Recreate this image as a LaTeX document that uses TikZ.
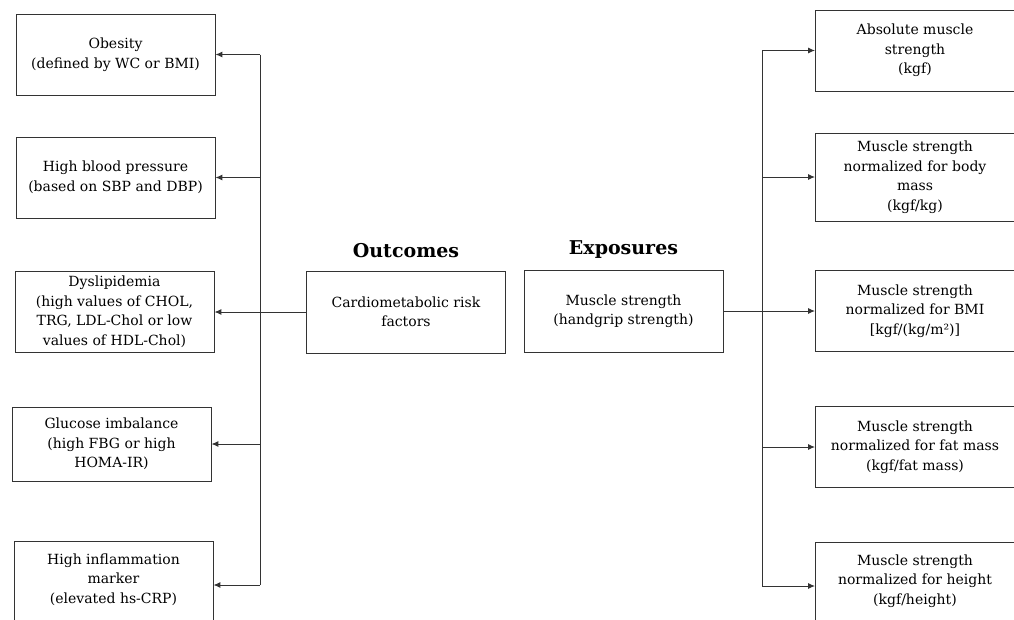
\documentclass[tikz,border=0pt]{standalone}
\usepackage{fontspec}
\setmainfont{DejaVu Serif}
\usetikzlibrary{positioning,arrows.meta}

\begin{document}
\begin{tikzpicture}[x=1pt,y=-1pt,
		box/.style={draw=black!80,line width=0.9pt,rectangle,minimum width=199pt,minimum height=81pt,
			align=center,inner sep=2pt,font=\fontsize{14}{19.5}\selectfont},
		head/.style={font=\fontsize{19}{22}\selectfont\bfseries,inner sep=0pt},
		link/.style={draw=black!80,line width=1pt},
		arr/.style={link,-{Latex[length=7pt,width=6pt]}}]
	\useasboundingbox (0,0) rectangle (1014,619);
	% outcomes (left)
	\node[box] (ob)  at (115.5,54.5) {Obesity\\(defined by WC or BMI)};
	\node[box] (hbp) at (115.5,177.5) {High blood pressure\\(based on SBP and DBP)};
	\node[box] (dys) at (114.5,312) {Dyslipidemia\\(high values of CHOL,\\TRG, LDL-Chol or low\\values of HDL-Chol)};
	\node[box,minimum height=74pt] (glu) at (111.5,444) {Glucose imbalance\\(high FBG or high\\HOMA-IR)};
	\node[box,minimum height=88pt] (inf) at (113.5,585) {High inflammation\\marker\\(elevated hs-CRP)\\[-6pt]\mbox{}};
	% middle
	\node[box,minimum height=82pt] (card) at (406,312) {Cardiometabolic risk\\factors};
	\node[box,minimum height=82pt] (musc) at (623.5,311) {Muscle strength\\(handgrip strength)};
	\node[head] (outc) [above=13pt of card] {Outcomes};
	\node[head] (expo) [above=11pt of musc] {Exposures};
	% exposures (right)
	\node[box] (abs) at (915,50.5) {Absolute muscle\\strength\\(kgf)};
	\node[box,minimum height=88pt] (bm) at (915,177) {Muscle strength\\normalized for body\\mass\\(kgf/kg)};
	\node[box] (bmi) at (915,311) {Muscle strength\\normalized for BMI\\[0pt][kgf/(kg/m²)]};
	\node[box] (fat) at (915,447) {Muscle strength\\normalized for fat mass\\(kgf/fat mass)};
	\node[box,minimum height=88pt] (hgt) at (915,586) {Muscle strength\\normalized for height\\(kgf/height)\\[-6pt]\mbox{}};
	
	\coordinate (ltr) at (260,0);
	\coordinate (rtr) at (762,0);
	\draw[link] (ob.east -| ltr) -- (inf.east -| ltr);
	\foreach \n in {ob,hbp,glu,inf}
		\draw[arr] (\n.east -| ltr) -- (\n.east);
	\draw[arr] (card.west) -- (card.west -| dys.east);
	\draw[link] (abs.west -| rtr) -- (hgt.west -| rtr);
	\foreach \n in {abs,bm,fat,hgt}
		\draw[arr] (\n.west -| rtr) -- (\n.west);
	\draw[arr] (musc.east) -- (musc.east -| bmi.west);
\end{tikzpicture}
\end{document}
